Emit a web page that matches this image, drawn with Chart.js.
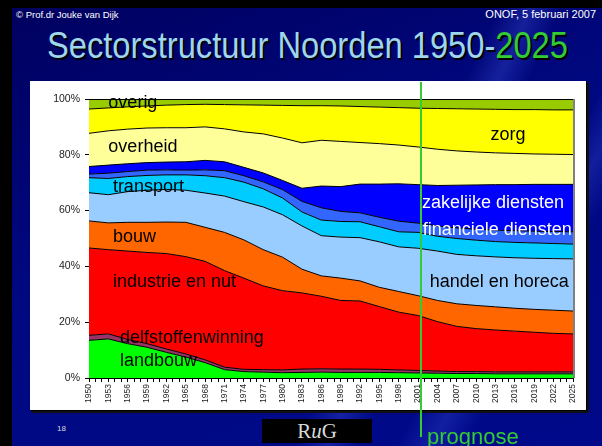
<!DOCTYPE html>
<html>
<head>
<meta charset="utf-8">
<script src="https://cdn.jsdelivr.net/npm/chart.js@4/dist/chart.umd.min.js"></script>
<style>
  html, body { margin: 0; padding: 0; }
  body {
    width: 602px; height: 446px; position: relative; overflow: hidden;
    font-family: 'Liberation Sans', Arial, sans-serif;
    background:
      linear-gradient(115deg, transparent 62%, rgba(60,80,220,0.35) 66%, transparent 70%),
      linear-gradient(120deg, transparent 76%, rgba(60,80,220,0.30) 80%, transparent 84%),
      linear-gradient(160deg, #00005e 0%, #000880 45%, #000a8a 100%);
  }
  .frame-left { position: absolute; left: 0; top: 0; width: 12px; height: 446px; background: #000; }
  .frame-top  { position: absolute; left: 0; top: 0; width: 602px; height: 8px; background: #000; }
  .hdr-left  { position: absolute; left: 16px; top: 10px; font-size: 9.5px; line-height: 10px; color: #fff; }
  .hdr-right { position: absolute; right: 6px; top: 9px; font-size: 11px; line-height: 11px; color: #fff; }
  .title {
    position: absolute; left: 47px; top: 28px; font-size: 36px; line-height: 36px; white-space: nowrap;
    color: #9fd6ee; text-shadow: 2px 2px 0 #000;
    transform: scaleX(0.907); transform-origin: left top;
  }
  .title span { color: #33cc33; }
  .panel {
    position: absolute; left: 30px; top: 81px; width: 556px; height: 329px;
    background: #fff; border-right: 1px solid #000; border-bottom: 1px solid #000;
    box-shadow: 2px 2px 0 #111;
  }
  .pagenr { position: absolute; left: 57px; top: 424px; font-size: 8px; color: #ddd; }
  .logo {
    position: absolute; left: 262px; top: 419px; width: 110px; height: 24px; background: #000;
    color: #d8d8d8; font-family: 'Liberation Serif', 'DejaVu Serif', serif; font-size: 21px;
    line-height: 24px; text-align: center;
  }
  canvas { position: absolute; left: 0; top: 0; }
</style>
</head>
<body>
<div class="frame-left"></div>
<div class="frame-top"></div>
<div class="hdr-left">© Prof.dr Jouke van Dijk</div>
<div class="hdr-right">ONOF, 5 februari 2007</div>
<div class="title">Sectorstructuur Noorden 1950-<span>2025</span></div>
<div class="panel"></div>
<div class="pagenr">18</div>
<div class="logo">R<i>u</i>G</div>
<canvas id="chart" width="602" height="446"></canvas>
<script>
// years on the horizontal axis (every 3 years, matches the tick labels)
const years = [1950, 1953, 1956, 1959, 1962, 1965, 1968, 1971, 1974, 1977, 1980, 1983, 1986,
               1989, 1992, 1995, 1998, 2001, 2004, 2007, 2010, 2013, 2016, 2019, 2022, 2025];

// share of employment per sector (%)
const landbouw    = [13.5, 14.0, 12.3, 11.0, 9.2, 7.5, 5.5, 3.0, 2.3, 2.1, 1.9, 2.0, 2.1, 2.0, 2.0, 2.0, 1.9, 1.8, 1.7, 1.6, 1.6, 1.5, 1.5, 1.5, 1.5, 1.5];
const delfstoffen = [1.8, 1.8, 1.5, 1.3, 1.2, 1.1, 1.0, 0.9, 0.8, 0.9, 1.0, 1.2, 1.2, 1.2, 1.2, 1.1, 1.0, 0.9, 0.8, 0.7, 0.7, 0.7, 0.7, 0.7, 0.7, 0.7];
const industrie   = [31.3, 30.2, 31.7, 32.7, 34.2, 34.9, 35.3, 34.6, 32.7, 30.0, 28.4, 27.3, 26.0, 24.6, 24.4, 22.5, 20.7, 19.7, 17.7, 16.2, 15.4, 15.0, 14.6, 14.2, 13.8, 13.6];
const bouw        = [9.7, 9.6, 10.3, 10.8, 11.3, 12.3, 12.2, 13.7, 13.7, 13.0, 12.0, 8.5, 7.3, 8.0, 7.2, 6.9, 7.4, 7.1, 7.6, 8.1, 8.3, 8.3, 8.2, 8.2, 8.3, 8.2];
const handel      = [10.1, 10.1, 11.0, 11.5, 11.7, 11.5, 12.3, 13.0, 13.7, 15.3, 15.2, 15.5, 14.4, 14.7, 15.5, 16.3, 16.0, 17.0, 17.7, 17.7, 17.8, 17.9, 18.1, 18.3, 18.5, 18.7];
const transport   = [5.4, 5.8, 5.4, 5.3, 5.2, 5.5, 6.2, 6.6, 7.0, 6.5, 6.0, 5.0, 5.6, 5.6, 5.7, 5.4, 5.4, 5.7, 5.3, 5.7, 5.6, 5.5, 5.5, 5.5, 5.4, 5.3];
const financiele  = [1.3, 1.9, 1.8, 1.9, 1.8, 1.7, 2.1, 2.5, 2.3, 2.5, 3.0, 3.8, 4.4, 3.6, 3.2, 3.4, 3.8, 3.3, 3.7, 3.8, 3.9, 4.1, 4.2, 4.2, 4.3, 4.4];
const zakelijke   = [2.7, 2.9, 2.8, 2.7, 2.8, 3.0, 3.4, 3.2, 3.0, 3.2, 3.3, 4.7, 7.8, 8.9, 10.3, 11.9, 13.4, 13.8, 14.5, 15.3, 15.9, 16.3, 16.5, 16.8, 16.9, 17.0];
const overheid    = [11.9, 12.3, 12.4, 12.4, 12.3, 12.2, 12.0, 11.8, 12.7, 14.0, 15.2, 16.3, 16.4, 16.2, 14.9, 14.5, 13.9, 13.5, 13.0, 12.3, 11.8, 11.4, 11.2, 10.9, 10.8, 10.7];
const zorg        = [8.7, 8.2, 8.0, 7.9, 8.1, 8.3, 8.1, 8.7, 9.7, 10.3, 11.7, 13.3, 12.4, 12.7, 12.9, 13.1, 13.4, 13.9, 14.6, 15.1, 15.4, 15.6, 15.7, 15.9, 15.9, 16.0];
const overig      = [3.6, 3.2, 2.8, 2.5, 2.2, 2.0, 1.9, 2.0, 2.1, 2.2, 2.3, 2.4, 2.4, 2.5, 2.7, 2.9, 3.1, 3.3, 3.4, 3.5, 3.6, 3.7, 3.8, 3.8, 3.9, 3.9];

const yTicks = [0, 20, 40, 60, 80, 100];
const prognoseYear = 2001.4;

// stacked from the bottom up
const series = [
  { label: 'landbouw',            data: landbouw,    color: '#00ff00' },
  { label: 'delfstoffenwinning',  data: delfstoffen, color: '#993366' },
  { label: 'industrie en nut',    data: industrie,   color: '#ff0000' },
  { label: 'bouw',                data: bouw,        color: '#ff6600' },
  { label: 'handel en horeca',    data: handel,      color: '#99ccff' },
  { label: 'transport',           data: transport,   color: '#00ccff' },
  { label: 'financiele diensten', data: financiele,  color: '#3366ff' },
  { label: 'zakelijke diensten',  data: zakelijke,   color: '#0000ff' },
  { label: 'overheid',            data: overheid,    color: '#ffff99' },
  { label: 'zorg',                data: zorg,        color: '#ffff00' },
  { label: 'overig',              data: overig,      color: '#99cc00' }
];

// text labels inside the areas, placed in data coordinates (year, % baseline)
const areaLabels = [
  { text: 'overig',              year: 1953.0, pct: 96.9, color: '#000' },
  { text: 'overheid',            year: 1953.0, pct: 81.1, color: '#000' },
  { text: 'transport',           year: 1953.7, pct: 66.6, color: '#000' },
  { text: 'bouw',                year: 1953.7, pct: 48.7, color: '#000' },
  { text: 'industrie en nut',    year: 1953.7, pct: 32.7, color: '#000' },
  { text: 'delfstoffenwinning',  year: 1954.8, pct: 12.5, color: '#000' },
  { text: 'landbouw',            year: 1954.8, pct: 4.3,  color: '#000' },
  { text: 'zorg',                year: 2012.2, pct: 85.3, color: '#000' },
  { text: 'zakelijke diensten',  year: 2001.6, pct: 60.8, color: '#fff' },
  { text: 'financiele diensten', year: 2001.7, pct: 51.3, color: '#fff' },
  { text: 'handel en horeca',    year: 2002.8, pct: 32.7, color: '#000' }
];

const labelPlugin = {
  id: 'areaLabels',
  afterDatasetsDraw(chart) {
    const { ctx, scales: { x, y }, chartArea } = chart;
    ctx.save();
    // plot area frame
    ctx.strokeStyle = '#000';
    ctx.lineWidth = 1;
    ctx.beginPath();
    ctx.moveTo(chartArea.left, chartArea.top + 0.5);
    ctx.lineTo(chartArea.right, chartArea.top + 0.5);
    ctx.stroke();
    ctx.strokeStyle = '#808080';
    ctx.lineWidth = 2;
    ctx.beginPath();
    ctx.moveTo(chartArea.right + 1, chartArea.top);
    ctx.lineTo(chartArea.right + 1, chartArea.bottom);
    ctx.stroke();

    ctx.font = '18px "Liberation Sans", Arial, sans-serif';
    ctx.textAlign = 'left';
    ctx.textBaseline = 'alphabetic';
    areaLabels.forEach(l => {
      ctx.fillStyle = l.color;
      ctx.fillText(l.text, x.getPixelForValue(l.year), y.getPixelForValue(l.pct));
    });
    ctx.restore();
  },
  afterDraw(chart) {
    const { ctx, scales: { x } } = chart;
    const px = Math.round(x.getPixelForValue(prognoseYear));
    ctx.save();
    ctx.strokeStyle = '#33cc33';
    ctx.lineWidth = 2;
    ctx.beginPath();
    ctx.moveTo(px, 82);
    ctx.lineTo(px, 437);
    ctx.stroke();
    ctx.fillStyle = '#33cc33';
    ctx.font = '22px "Liberation Sans", Arial, sans-serif';
    ctx.textBaseline = 'alphabetic';
    ctx.fillText('prognose', px + 6, 444);
    ctx.restore();
  }
};

new Chart(document.getElementById('chart'), {
  type: 'line',
  data: {
    labels: years,
    datasets: series.map((s, i) => ({
      label: s.label,
      data: s.data,
      backgroundColor: s.color,
      borderColor: '#000',
      borderWidth: 1,
      fill: i === 0 ? 'origin' : '-1',
      pointRadius: 0,
      tension: 0
    }))
  },
  options: {
    responsive: false,
    animation: false,
    layout: { padding: { left: 30, right: 29, top: 99, bottom: 35 } },
    plugins: {
      legend: { display: false },
      tooltip: { enabled: false },
      filler: { drawTime: 'beforeDatasetsDraw' }
    },
    scales: {
      x: {
        type: 'linear',
        min: 1950,
        max: 2025,
        afterFit: s => { s.height = 33; },
        grid: { drawOnChartArea: false, tickLength: 4, color: '#000' },
        border: { color: '#000' },
        ticks: {
          stepSize: 1,
          maxTicksLimit: 200,
          autoSkip: false,
          minRotation: 90,
          maxRotation: 90,
          padding: 2,
          color: '#222',
          font: { size: 8.5, family: '"Liberation Sans", Arial, sans-serif' },
          callback: v => ((v - 1950) % 3 === 0 ? String(v) : '')
        }
      },
      y: {
        stacked: true,
        min: 0,
        max: 100,
        afterFit: s => { s.width = 59; },
        afterBuildTicks: s => { s.ticks = yTicks.map(v => ({ value: v })); },
        grid: { drawOnChartArea: false, tickLength: 4, color: '#000' },
        border: { color: '#000' },
        ticks: {
          padding: 5,
          color: '#222',
          font: { size: 10.5, family: '"Liberation Sans", Arial, sans-serif' },
          callback: v => v + '%'
        }
      }
    }
  },
  plugins: [labelPlugin]
});
</script>
</body>
</html>
